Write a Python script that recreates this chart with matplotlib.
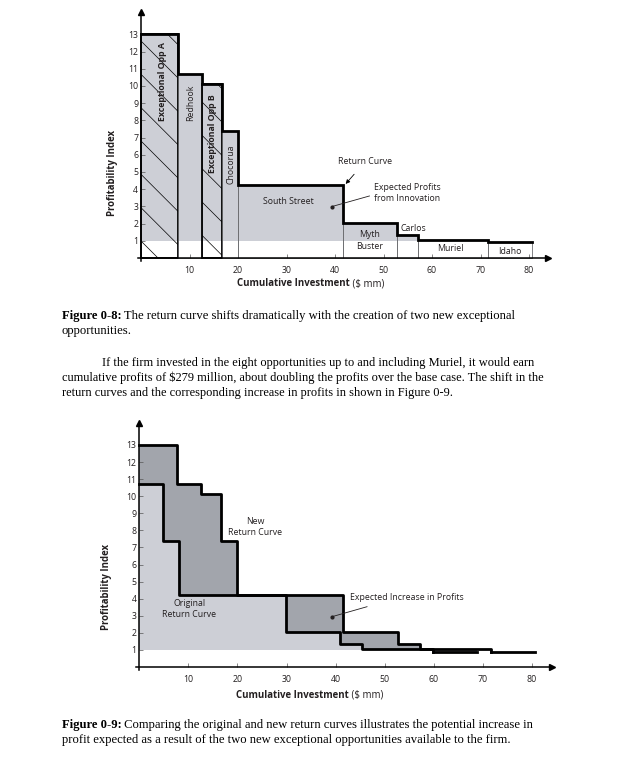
import numpy as np
import matplotlib.pyplot as plt

# --- data: the nine opportunities (sorted by profitability index) ---
names = ["Exceptional Opp A", "Redhook", "Exceptional Opp B", "Chocorua",
         "South Street", "Myth Buster", "Carlos", "Muriel", "Idaho"]
widths = [7.7, 4.8, 4.1, 3.4, 21.6, 11.1, 4.5, 14.4, 9.1]      # investment ($ mm)
pi_vals = [13.0, 10.7, 10.1, 7.35, 4.22, 2.05, 1.35, 1.05, 0.9]  # profitability index
exceptional = [True, False, True, False, False, False, False, False, False]
x_ticks = [10, 20, 30, 40, 50, 60, 70, 80]
y_ticks = list(range(1, 14))

LIGHT = "#cdcfd6"
DARK = "#a2a5ac"
INK = "#231f20"
SANS = ["Open Sans", "DejaVu Sans"]
SERIF = ["Liberation Serif", "DejaVu Serif"]
FS = 6.3     # labels inside the charts
TS = 6.9     # axis titles
CS = 9.1     # captions
PS = 8.95    # body paragraph

plt.rcParams["hatch.linewidth"] = 0.5
W, H = 636, 759
fig = plt.figure(figsize=(W / 100, H / 100), dpi=100)

# page layer in pixel coords (for captions and axis titles)
page = fig.add_axes([0, 0, 1, 1])
page.set_xlim(0, W)
page.set_ylim(H, 0)
page.axis("off")


def place_axes(x0, y0, sx, sy, xlim, ylim):
    # x0, y0: pixel of data (0, 0); sx, sy: pixels per data unit
    left = x0 + xlim[0] * sx
    bottom = y0 - ylim[0] * sy
    ax = fig.add_axes([left / W, 1 - bottom / H,
                       (xlim[1] - xlim[0]) * sx / W, (ylim[1] - ylim[0]) * sy / H])
    ax.set_xlim(*xlim)
    ax.set_ylim(*ylim)
    ax.set_facecolor("none")
    for s in ["top", "right"]:
        ax.spines[s].set_visible(False)
    for s in ["left", "bottom"]:
        ax.spines[s].set_position(("data", 0))
        ax.spines[s].set_linewidth(1.1)
        ax.spines[s].set_color("black")
    ax.plot(xlim[1], 0, ">", color="black", ms=5, clip_on=False, zorder=6)
    ax.plot(0, ylim[1], "^", color="black", ms=5, clip_on=False, zorder=6)
    ax.set_xticks(x_ticks)
    ax.set_yticks(y_ticks)
    ax.tick_params(axis="x", direction="in", length=3, width=0.5, colors="#555555",
                   labelcolor=INK, labelsize=FS, pad=6)
    ax.tick_params(axis="y", direction="in", length=3, width=0.5, colors="#555555",
                   labelcolor=INK, labelsize=FS, pad=2)
    for lab in ax.get_xticklabels() + ax.get_yticklabels():
        lab.set_family(SANS)
    return ax


def axis_titles(xr, xy, yx, yc):
    t = page.text(xr, xy, "Cumulative Investment", family=SANS, size=TS,
                  weight="bold", ha="right", va="center", color=INK)
    page.annotate(" ($ mm)", xy=(1, 0), xycoords=t, family=SANS, size=TS,
                  ha="left", va="bottom", color=INK)
    page.text(yx, yc, "Profitability Index", family=SANS, size=TS, weight="bold",
              rotation=90, ha="center", va="center", color=INK)


widths_a = np.array(widths)
pi_a = np.array(pi_vals)
exc_a = np.array(exceptional)
edges = np.concatenate([[0], np.cumsum(widths_a)])
lefts = edges[:-1]

# ================= Figure 0-8 =================
ax1 = place_axes(141, 257.9, 4.85, 17.2, (-0.7, 84), (-0.2, 14.3))

# grey area above PI = 1
ax1.bar(lefts, np.maximum(pi_a - 1, 0), width=widths_a, bottom=1, align="edge",
        color=LIGHT, linewidth=0, zorder=1)
# boxes down to the axis
for i in range(len(names)):
    if exc_a[i]:
        ax1.bar(lefts[i], pi_a[i], width=widths_a[i], align="edge", facecolor="none",
                edgecolor="black", linewidth=1.3, hatch="\\", zorder=2)
    else:
        ax1.bar(lefts[i], pi_a[i], width=widths_a[i], align="edge", facecolor="none",
                edgecolor="#6d6e71", linewidth=0.6, zorder=2)

# return curve
ax1.step(edges, np.append(pi_a, pi_a[-1]), where="post", color="black", lw=2.0,
         solid_joinstyle="miter", zorder=4)

# labels inside the boxes
ax1.text(4.4, 10.25, names[0], rotation=90, ha="center", va="center",
         family=SANS, size=FS, weight="bold", color=INK, zorder=5)
ax1.text(10.25, 9.0, names[1], rotation=90, ha="center", va="center",
         family=SANS, size=FS, color=INK, zorder=5)
ax1.text(14.8, 7.2, names[2], rotation=90, ha="center", va="center",
         family=SANS, size=FS, weight="bold", color=INK, zorder=5)
ax1.text(18.5, 5.46, names[3], rotation=90, ha="center", va="center",
         family=SANS, size=FS, color=INK, zorder=5)
ax1.text(30.4, 3.27, names[4], ha="center", va="center", family=SANS, size=FS, color=INK)
ax1.text(47.1, 1.02, "Myth\nBuster", ha="center", va="center", family=SANS, size=FS,
         color=INK, linespacing=1.5)
ax1.text(56.1, 1.72, names[6], ha="center", va="center", family=SANS, size=FS, color=INK)
ax1.text(63.7, 0.56, names[7], ha="center", va="center", family=SANS, size=FS, color=INK)
ax1.text(76.1, 0.4, names[8], ha="center", va="center", family=SANS, size=FS, color=INK)

# callouts
ax1.annotate("Return Curve", xy=(42.2, 4.3), xytext=(46.2, 5.59), ha="center",
             va="center", family=SANS, size=FS, color=INK,
             arrowprops=dict(arrowstyle="-|>", color="black", lw=0.6,
                             mutation_scale=6, shrinkA=5, shrinkB=0))
ax1.text(54.9, 3.76, "Expected Profits\nfrom Innovation", ha="center", va="center",
         family=SANS, size=FS, color=INK, linespacing=1.3)
ax1.plot([47.1, 39.3], [3.6, 2.98], color=INK, lw=0.6, zorder=5)
ax1.plot(39.3, 2.98, "o", color=INK, ms=2, zorder=5)

axis_titles(350, 284, 112, 173)

# ================= Figure 0-9 =================
ax2 = place_axes(139.2, 667, 4.91, 17.08, (-0.7, 84), (-0.2, 14.3))

orig_w = widths_a[~exc_a]
orig_pi = pi_a[~exc_a]
orig_edges = np.concatenate([[0], np.cumsum(orig_w)])

# common breakpoints of both step curves
xs = np.union1d(edges, orig_edges)
xs = xs[xs <= orig_edges[-1]]
new_v = pi_a[np.clip(np.searchsorted(edges, xs, side="right") - 1, 0, len(pi_a) - 1)]
old_v = orig_pi[np.clip(np.searchsorted(orig_edges, xs, side="right") - 1, 0, len(orig_pi) - 1)]

ax2.fill_between(xs, 1, np.maximum(old_v, 1), step="post", color=LIGHT, lw=0, zorder=1)
ax2.fill_between(xs, old_v, np.maximum(new_v, old_v), step="post", color=DARK,
                 lw=0, zorder=1)

ax2.step(edges[:-1], pi_a, where="post", color="black", lw=2.0, zorder=4)
ax2.plot([edges[-2], edges[-1]], [pi_a[-1], pi_a[-1]], color="black", lw=2.0, zorder=4)
ax2.step(orig_edges[:-1], orig_pi, where="post", color="black", lw=2.0, zorder=4)
ax2.plot([orig_edges[-2], orig_edges[-1]], [orig_pi[-1], orig_pi[-1]], color="black",
         lw=2.0, zorder=4)

ax2.text(23.6, 8.2, "New\nReturn Curve", ha="center", va="center", family=SANS,
         size=FS, color=INK, linespacing=1.3)
ax2.text(10.2, 3.38, "Original\nReturn Curve", ha="center", va="center", family=SANS,
         size=FS, color=INK, linespacing=1.3)
ax2.text(42.9, 4.08, "Expected Increase in Profits", ha="left", va="center",
         family=SANS, size=FS, color=INK)
ax2.plot([46.4, 39.2], [3.53, 2.94], color=INK, lw=0.6, zorder=5)
ax2.plot(39.2, 2.94, "o", color=INK, ms=2, zorder=5)

axis_titles(349, 695, 107, 587)

# ================= page text =================


def line(x, y, bold, rest, size=CS):
    if bold:
        t = page.text(x, y, bold, family=SERIF, size=size, weight="bold", va="center")
        page.annotate(rest, xy=(1, 0), xycoords=t, family=SERIF, size=size,
                      ha="left", va="bottom")
    else:
        page.text(x, y, rest, family=SERIF, size=size, va="center")


line(61.5, 316, "Figure 0-8:", " The return curve shifts dramatically with the creation of two new exceptional")
line(61.5, 331, None, "opportunities.")
line(102, 363, None, "If the firm invested in the eight opportunities up to and including Muriel, it would earn", PS)
line(61.5, 378, None, "cumulative profits of $279 million, about doubling the profits over the base case. The shift in the", PS)
line(61.5, 393, None, "return curves and the corresponding increase in profits in shown in Figure 0-9.", PS)
line(61.5, 725, "Figure 0-9:", " Comparing the original and new return curves illustrates the potential increase in")
line(61.5, 740, None, "profit expected as a result of the two new exceptional opportunities available to the firm.")

fig.savefig("out.png", dpi=100)
